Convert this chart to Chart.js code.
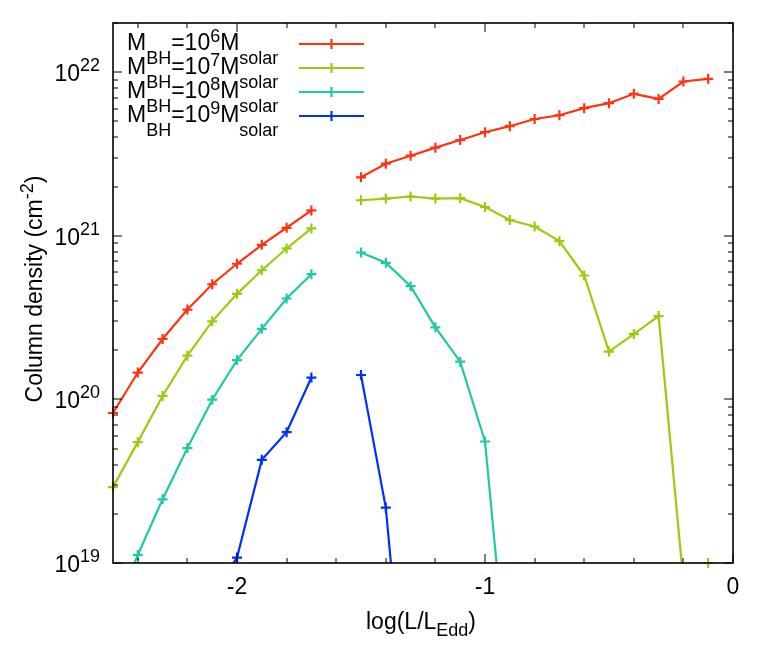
<!DOCTYPE html>
<html>
<head>
<meta charset="utf-8">
<script src="https://cdn.jsdelivr.net/npm/chart.js@4.4.1/dist/chart.umd.min.js"></script>
<style>
  html, body { margin: 0; padding: 0; background: #fff; }
  canvas { display: block; }
</style>
</head>
<body>
<canvas id="myChart" width="759" height="664"></canvas>
<script>
// log(L/L_Edd) grid, -1.6 has no data
const logL = [-2.5, -2.4, -2.3, -2.2, -2.1, -2.0, -1.9, -1.8, -1.7, -1.6,
  -1.5, -1.4, -1.3, -1.2, -1.1, -1.0, -0.9, -0.8, -0.7, -0.6, -0.5, -0.4, -0.3, -0.2, -0.1]

// column density (cm^-2) per black hole mass
const nh6 = [8.26e19, 1.46e20, 2.34e20, 3.54e20, 5.06e20, 6.75e20, 8.81e20, 1.12e21, 1.43e21, null,
  2.28e21, 2.76e21, 3.09e21, 3.46e21, 3.85e21, 4.30e21, 4.68e21, 5.18e21, 5.46e21, 6.03e21,
  6.47e21, 7.38e21, 6.87e21, 8.78e21, 9.12e21]
const nh7 = [2.91e19, 5.48e19, 1.05e20, 1.85e20, 3.00e20, 4.42e20, 6.16e20, 8.37e20, 1.11e21, null,
  1.65e21, 1.69e21, 1.74e21, 1.69e21, 1.70e21, 1.50e21, 1.25e21, 1.14e21, 9.28e20, 5.72e20,
  1.96e20, 2.51e20, 3.23e20, 7.7e18, 1.0e19]
const nh8 = [4.8e18, 1.12e19, 2.45e19, 5.04e19, 9.96e19, 1.74e20, 2.70e20, 4.14e20, 5.83e20, null,
  7.91e20, 6.84e20, 4.92e20, 2.76e20, 1.70e20, 5.53e19, 1.4e18, null, null, null,
  null, null, null, null, null]
const nh9 = [null, null, null, null, 6.3e18, 1.08e19, 4.27e19, 6.31e19, 1.36e20, null,
  1.41e20, 2.18e19, 5.0e17, null, null, null, null, null, null, null,
  null, null, null, null, null]

const massExp = ['6', '7', '8', '9']
const yTickExp = [19, 20, 21, 22]
const xTickLabels = [-2, -1, 0]
const xMinorTicks = [-2.4, -2.2, -1.8, -1.6, -1.4, -1.2, -0.8, -0.6, -0.4, -0.2]

const Y_MIN = 1e19
const Y_MAX = 2e22
const colors = ['#ff3311', '#99cc11', '#1fc9a6', '#0030ff']
const FONT = '"Liberation Sans", Arial, Helvetica, sans-serif'
const BIG = 23
const SMALL = 18

const series = [nh6, nh7, nh8, nh9]
const pts = arr => logL.map((x, i) => ({ x: x, y: arr[i] }))

const datasets = []
series.forEach((arr, i) => {
  // the line, clipped to the frame
  datasets.push({
    data: pts(arr),
    borderColor: colors[i],
    borderWidth: 2.2,
    pointRadius: 0,
    spanGaps: false,
    clip: 0,
    order: 10 - i
  })
  // the + markers, not clipped (like gnuplot)
  datasets.push({
    data: pts(arr),
    showLine: false,
    borderColor: colors[i],
    backgroundColor: colors[i],
    pointStyle: 'cross',
    pointBorderWidth: 2.2,
    pointHoverRadius: 0,
    pointRadius: c => (c.raw && c.raw.y != null && c.raw.y >= Y_MIN * 0.99 && c.raw.y <= Y_MAX) ? 5 : 0,
    clip: false,
    order: 10 - i
  })
})

function richWidth(ctx, parts) {
  let w = 0
  parts.forEach(p => {
    ctx.font = (p[1] ? SMALL : BIG) + 'px ' + FONT
    w += ctx.measureText(p[0]).width
  })
  return w
}

// parts: [text, mode] mode 0 normal, 1 superscript, -1 subscript
function drawRich(ctx, parts, x, y, align, supDy, subDy) {
  const w = richWidth(ctx, parts)
  let cx = align === 'right' ? x - w : align === 'center' ? x - w / 2 : x
  ctx.textAlign = 'left'
  ctx.textBaseline = 'alphabetic'
  parts.forEach(p => {
    ctx.font = (p[1] ? SMALL : BIG) + 'px ' + FONT
    const dy = p[1] === 1 ? -supDy : p[1] === -1 ? subDy : 0
    ctx.fillText(p[0], cx, y + dy)
    cx += ctx.measureText(p[0]).width
  })
}

const frame = {
  id: 'frame',
  afterDraw(chart) {
    const ctx = chart.ctx
    const a = chart.chartArea
    const xs = chart.scales.x
    const ys = chart.scales.y
    ctx.save()

    // ticks (inward, mirrored)
    ctx.strokeStyle = '#000'
    ctx.lineWidth = 1
    ctx.beginPath()
    yTickExp.forEach(e => {
      for (let m = 1; m <= 9; m++) {
        const v = m * Math.pow(10, e)
        if (v < Y_MIN || v > Y_MAX) continue
        const py = Math.round(ys.getPixelForValue(v))
        const len = m === 1 ? 9 : 5
        ctx.moveTo(a.left, py); ctx.lineTo(a.left + len, py)
        ctx.moveTo(a.right, py); ctx.lineTo(a.right - len, py)
      }
    })
    xTickLabels.concat(xMinorTicks).forEach(v => {
      const px = Math.round(xs.getPixelForValue(v))
      const len = xTickLabels.includes(v) ? 9 : 5
      ctx.moveTo(px, a.bottom); ctx.lineTo(px, a.bottom - len)
      ctx.moveTo(px, a.top); ctx.lineTo(px, a.top + len)
    })
    ctx.stroke()

    // border
    ctx.lineWidth = 1.6
    ctx.strokeRect(a.left, a.top, a.right - a.left, a.bottom - a.top)

    ctx.fillStyle = '#000'
    // y tick labels 10^N
    yTickExp.forEach(e => {
      const py = ys.getPixelForValue(Math.pow(10, e))
      drawRich(ctx, [['10', 0], [String(e), 1]], 100, py + 9, 'right', 10, 0)
    })
    // x tick labels
    ctx.font = BIG + 'px ' + FONT
    ctx.textAlign = 'center'
    ctx.textBaseline = 'alphabetic'
    xTickLabels.forEach(v => {
      ctx.fillText(String(v), xs.getPixelForValue(v), 594)
    })

    // axis titles
    drawRich(ctx, [['log(L/L', 0], ['Edd', -1], [')', 0]], (a.left + a.right) / 2 - 2, 629, 'center', 9, 7)
    ctx.save()
    ctx.translate(42, 289)
    ctx.rotate(-Math.PI / 2)
    drawRich(ctx, [['Column density (cm', 0], ['-2', 1], [')', 0]], 0, 0, 'center', 9, 7)
    ctx.restore()

    // key
    massExp.forEach((e, i) => {
      const ly = 44 + i * 24
      ctx.fillStyle = '#000'
      drawRich(ctx, [['M', 0], ['BH', -1], ['=10', 0], [e, 1], ['M', 0], ['solar', -1]], 127, ly + 6, 'left', 8, 14)
      ctx.strokeStyle = colors[i]
      ctx.lineWidth = 2.2
      ctx.beginPath()
      ctx.moveTo(299, ly); ctx.lineTo(364, ly)
      ctx.moveTo(331.5, ly - 5); ctx.lineTo(331.5, ly + 5)
      ctx.stroke()
    })
    ctx.restore()
  }
}

new Chart('myChart', {
  type: 'line',
  data: { datasets: datasets },
  options: {
    responsive: false,
    animation: false,
    events: [],
    layout: { padding: { left: 113, top: 23, right: 26, bottom: 101 } },
    plugins: { legend: { display: false }, tooltip: { enabled: false } },
    scales: {
      x: { type: 'linear', min: -2.5, max: 0, display: false },
      y: { type: 'logarithmic', min: Y_MIN, max: Y_MAX, display: false }
    }
  },
  plugins: [frame]
})
</script>
</body>
</html>
